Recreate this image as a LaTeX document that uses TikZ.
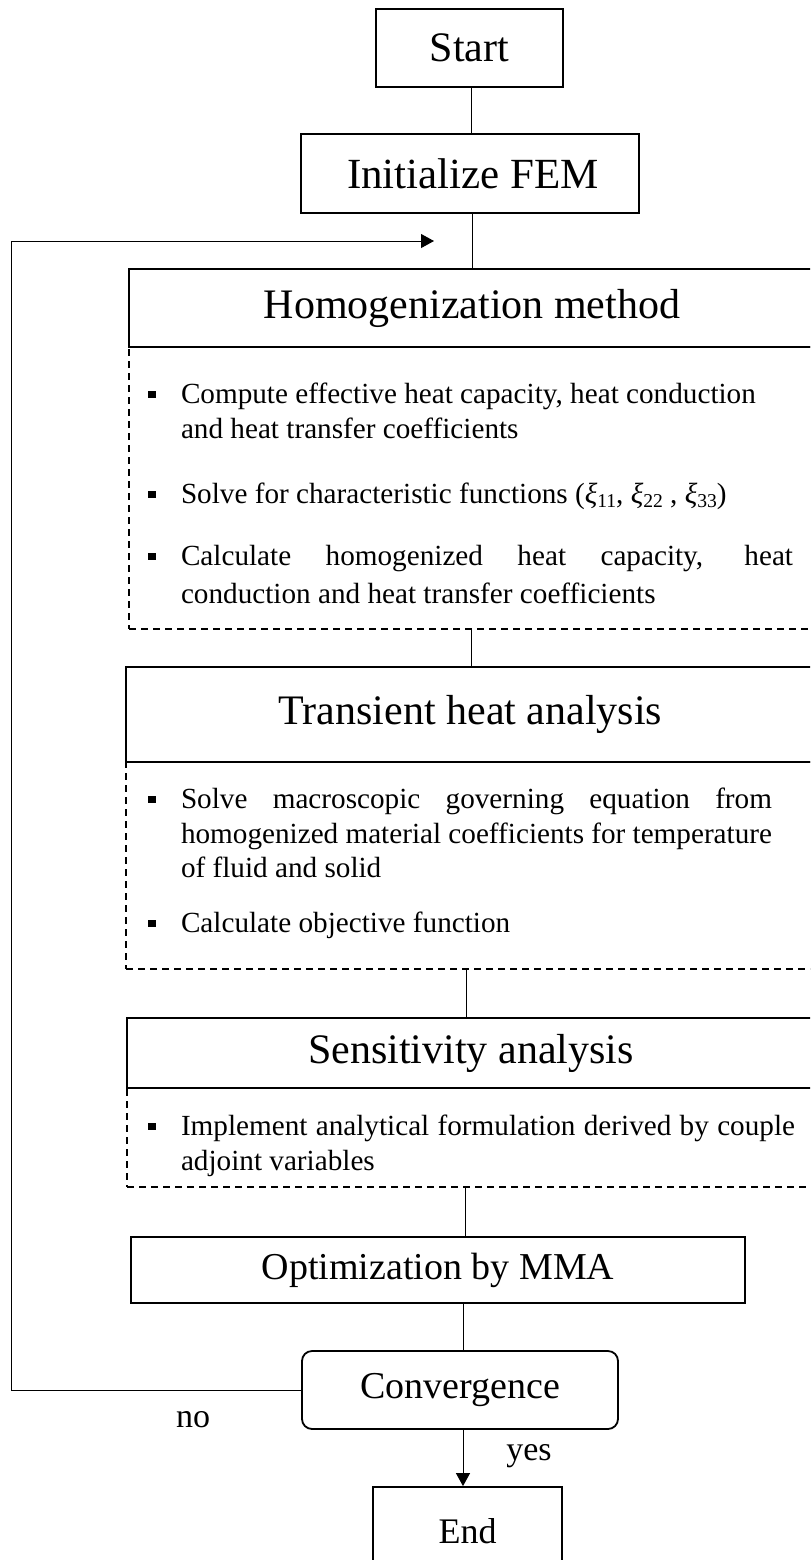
\documentclass[tikz,border=0pt]{standalone}
\usepackage{fontspec}
\setmainfont{Liberation Serif}
\usetikzlibrary{arrows.meta,calc}
\newcommand\xs[1]{\textit{ξ}\raisebox{-0.35ex}{\fontsize{9.8}{10}\selectfont #1}}
\begin{document}
\begin{tikzpicture}[x=0.5pt,y=-0.5pt,
  box/.style={draw,line width=0.9pt,inner sep=0pt,fill=white},
  dbox/.style={draw,line width=0.6pt,dash pattern=on 3.5pt off 2.5pt,inner sep=0pt},
  conn/.style={line width=0.5pt},
  arr/.style={line width=0.5pt,-{Triangle[length=6.5pt,width=7pt]}},
  big/.style={font=\fontsize{21}{25}\selectfont},
  mid/.style={font=\fontsize{19}{23}\selectfont},
  lab/.style={font=\fontsize{17}{20}\selectfont,inner sep=0pt,anchor=base},
  txt/.style={anchor=base west,inner sep=0pt,font=\fontsize{14.6}{17}\selectfont},
  bulletmark/.style={fill=black}
]
\useasboundingbox (0,0) rectangle (810,1560);
\clip (0,0) rectangle (810,1560);

% main boxes
\node[box,big,minimum width=93.5pt,minimum height=39pt] (start) at (469.5,48) {Start\hspace{7pt}};
\node[box,font=\fontsize{21.5}{26}\selectfont,minimum width=169pt,minimum height=39.5pt] (init) at (470,173.5) {\hspace{3pt}Initialize FEM};

\node[dbox,minimum width=343pt,minimum height=141pt] (homdash) at (472,488) {};
\node[box,big,minimum width=343pt,minimum height=39pt] (homhead) at (472,308) {Homogenization method};

\node[dbox,minimum width=344.5pt,minimum height=103.5pt] (trdash) at (470.5,865.5) {};
\node[box,big,minimum width=344.5pt,minimum height=47.5pt] (trhead) at (470.5,714.5) {Transient heat analysis};

\node[dbox,minimum width=344pt,minimum height=49.5pt] (sedash) at (471,1137.5) {};
\node[box,big,minimum width=344pt,minimum height=35pt] (sehead) at (471,1053) {Sensitivity analysis};

\node[box,mid,minimum width=307pt,minimum height=33pt] (opt) at (438,1270) {Optimization by MMA};
\node[box,mid,rounded corners=5pt,minimum width=158pt,minimum height=39pt] (conv) at (460,1390) {Convergence};
\node[box,font=\fontsize{18}{22}\selectfont,minimum width=94.5pt,minimum height=44pt] (endn) at (467.5,1531) {End};

% connectors
\draw[conn] ([xshift=1pt]start.south) -- ([xshift=1pt]start.south |- init.north);
\draw[conn] ([xshift=1pt]init.south) -- ([xshift=1pt]init.south |- homhead.north);
\draw[conn] ([xshift=-0.5pt]homdash.south) -- ([xshift=-0.5pt]homdash.south |- trhead.north);
\draw[conn] ([xshift=-2.25pt]trdash.south) -- ([xshift=-2.25pt]trdash.south |- sehead.north);
\draw[conn] ([xshift=-3pt]sedash.south) -- ([xshift=-3pt]sedash.south |- opt.north);
\draw[conn] ([xshift=1.5pt]conv.north |- opt.south) -- ([xshift=1.5pt]conv.north);
\draw[arr] ([xshift=1.5pt]conv.south) -- ([xshift=1.5pt]conv.south |- endn.north);

\coordinate (fbcorner) at (11,241);
\coordinate (fbtip) at (434,241);
\draw[arr] (conv.west) -| (fbcorner) -- (fbtip);

\node[lab] (no) at (193,1427) {no};
\node[lab] (yes) at (529,1460) {yes};

% bullets
\foreach \b in {403,503,565,808,932,1135}
  \fill[bulletmark] (148,\b-12) rectangle (156,\b-5);

% Homogenization text
\node[txt] (h1a) at (180.6,403) {Compute effective heat capacity, heat conduction};
\node[txt] (h1b) at (180.6,438) {and heat transfer coefficients};
\node[txt] (h2) at (180.6,503) {Solve for characteristic functions (\xs{11}, \xs{22} , \xs{33})};
\node[txt] (h3a) at (180.6,565) {\makebox[306pt][s]{Calculate homogenized heat capacity, heat}};
\node[txt] (h3b) at (180.6,603) {conduction and heat transfer coefficients};

% Transient text
\node[txt] (t1a) at (180.6,808) {\makebox[295.5pt][s]{Solve macroscopic governing equation from}};
\node[txt] (t1b) at (180.6,843) {\makebox[295.5pt][s]{homogenized material coefficients for temperature}};
\node[txt] (t1c) at (180.6,877) {of fluid and solid};
\node[txt] (t2) at (180.6,932) {Calculate objective function};

% Sensitivity text
\node[txt] (s1a) at (180.6,1135) {\makebox[307pt][s]{Implement analytical formulation derived by couple}};
\node[txt] (s1b) at (180.6,1170) {adjoint variables};
\end{tikzpicture}
\end{document}
